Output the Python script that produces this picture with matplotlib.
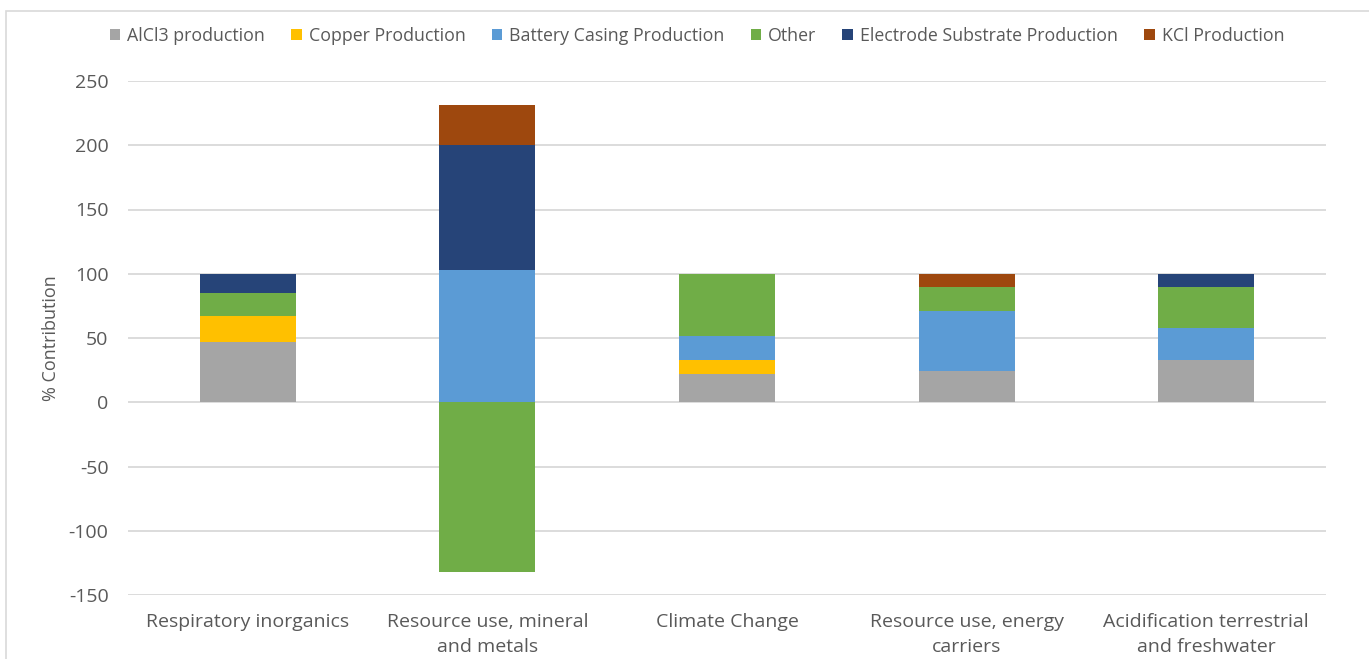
import numpy as np
import matplotlib.pyplot as plt
from matplotlib.patches import Rectangle

categories = ["Respiratory inorganics", "Resource use, mineral\nand metals",
              "Climate Change", "Resource use, energy\ncarriers",
              "Acidification terrestrial\nand freshwater"]

alcl3 = [47, 0, 22, 24, 33]
copper = [20.5, 0, 10.5, 0, 0]
casing = [0, 103, 18.7, 47, 25]
other = [17.5, -132, 48.8, 19, 31.5]
electrode = [15, 97.5, 0, 0, 10.5]
kcl = [0, 30.5, 0, 10, 0]

series = [("AlCl3 production", alcl3, "#A5A5A5"),
          ("Copper Production", copper, "#FFC000"),
          ("Battery Casing Production", casing, "#5B9BD5"),
          ("Other", other, "#70AD47"),
          ("Electrode Substrate Production", electrode, "#264478"),
          ("KCl Production", kcl, "#9E480E")]

plt.rcParams['font.family'] = ['Open Sans', 'DejaVu Sans']
plt.rcParams['axes.unicode_minus'] = False
text_col = "#595959"

fig = plt.figure(figsize=(13.69, 6.59), dpi=100)
ax = fig.add_axes([128 / 1369, 1 - 595 / 659, (1326 - 128) / 1369, (595 - 81) / 659])

x = np.arange(len(categories))
pos_bottom = np.zeros(len(categories))
neg_bottom = np.zeros(len(categories))
for name, vals, col in series:
    vals = np.array(vals, dtype=float)
    bottom = np.where(vals >= 0, pos_bottom, neg_bottom)
    ax.bar(x, vals, 0.4, bottom=bottom, color=col, label=name, zorder=3)
    pos_bottom += np.clip(vals, 0, None)
    neg_bottom += np.clip(vals, None, 0)

ax.set_xlim(-0.5, len(categories) - 0.5)
ax.set_ylim(-150, 250)
ax.set_yticks(np.arange(-150, 251, 50))
ax.grid(axis="y", color="#D9D9D9", linewidth=1.3, zorder=0)
for s in ax.spines.values():
    s.set_visible(False)
ax.tick_params(length=0, colors=text_col, labelsize=14)
ax.tick_params(axis="y", pad=14)
ax.tick_params(axis="x", pad=13)
ax.set_xticks(x)
ax.set_xticklabels(categories, linespacing=1.5)
ax.set_ylabel("% Contribution", color=text_col, fontsize=13, labelpad=6)

ax.legend(loc="center", bbox_to_anchor=(697 / 1369, 1 - 36 / 659), bbox_transform=fig.transFigure,
          ncol=6, frameon=False, fontsize=12.8, labelcolor=text_col,
          handlelength=0.6, handleheight=0.6, handletextpad=0.4, columnspacing=1.45)

fig.patches.append(Rectangle((6 / 1369, -0.1), 1.2, 1 - 11 / 659 + 0.1,
                             transform=fig.transFigure, fill=False,
                             edgecolor="#D9D9D9", linewidth=1.2))

fig.savefig("out.png", dpi=100)
